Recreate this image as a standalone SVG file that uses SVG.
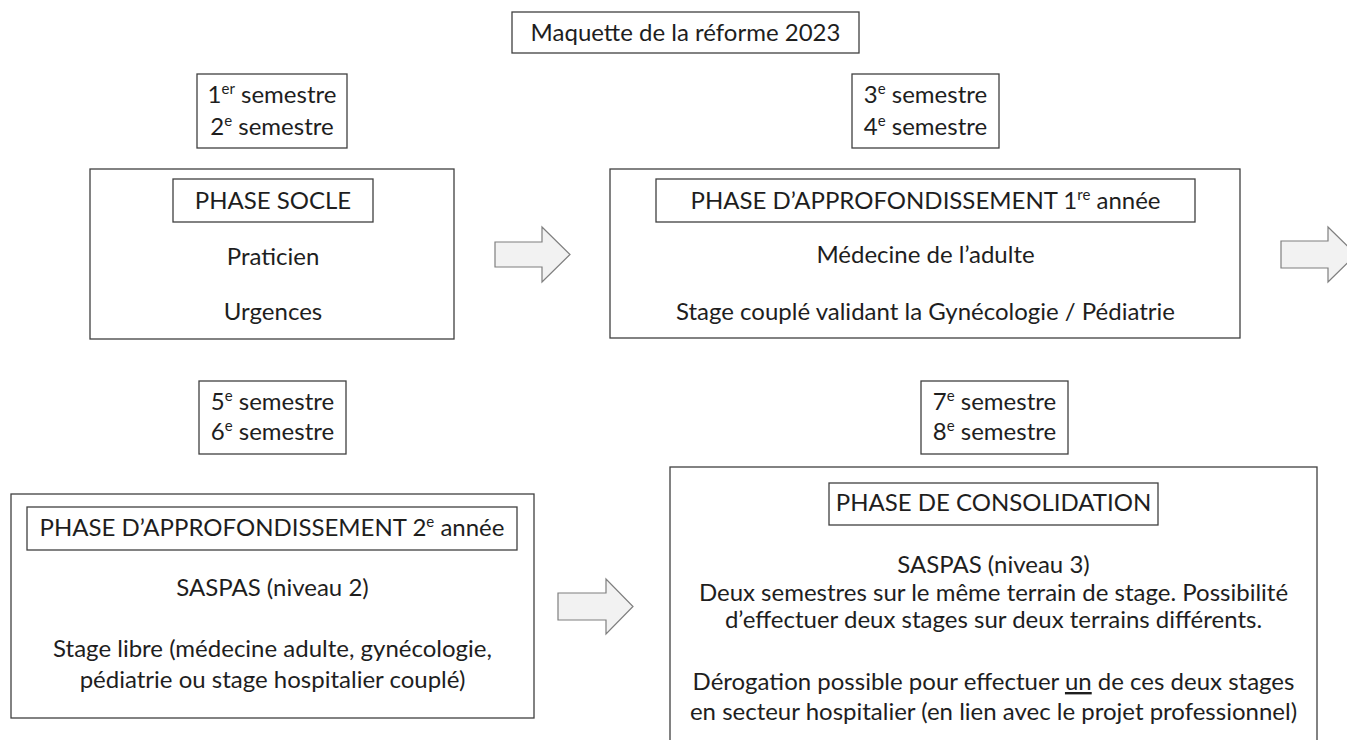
<svg xmlns="http://www.w3.org/2000/svg" width="1347" height="740" viewBox="0 0 1347 740">
<style>
.box{fill:#ffffff;stroke:#404040;stroke-width:1.3}
.arrow{fill:#f2f2f2;stroke:#7f7f7f;stroke-width:1.2}
text{font-family:Lato,"Liberation Sans",sans-serif;font-size:24px;fill:#1e1e1e;text-anchor:middle}
.sup{font-size:15px}
</style>
<rect width="1347" height="740" fill="#ffffff"/>
<g id="title">
<rect class="box" x="512" y="12" width="347" height="41"/>
<text x="685.5" y="41">Maquette de la réforme 2023</text>
</g>
<g id="sem12">
<rect class="box" x="197" y="74" width="150" height="74"/>
<text x="272" y="103">1<tspan class="sup" baseline-shift="super">er</tspan> semestre</text>
<text x="272" y="135">2<tspan class="sup" baseline-shift="super">e</tspan> semestre</text>
</g>
<g id="sem34">
<rect class="box" x="852" y="74" width="147" height="74"/>
<text x="925.5" y="103">3<tspan class="sup" baseline-shift="super">e</tspan> semestre</text>
<text x="925.5" y="135">4<tspan class="sup" baseline-shift="super">e</tspan> semestre</text>
</g>
<g id="phase-socle">
<rect class="box" x="90" y="169" width="364" height="170"/>
<rect class="box" x="173" y="179" width="200" height="43"/>
<text x="273" y="209">PHASE SOCLE</text>
<text x="273" y="265">Praticien</text>
<text x="273" y="320">Urgences</text>
</g>
<g id="phase-approf1">
<rect class="box" x="610" y="169" width="630" height="169"/>
<rect class="box" x="656" y="179" width="539" height="43"/>
<text x="925.5" y="209">PHASE D’APPROFONDISSEMENT 1<tspan class="sup" baseline-shift="super">re</tspan> année</text>
<text x="925.5" y="263">Médecine de l’adulte</text>
<text x="925.5" y="320">Stage couplé validant la Gynécologie / Pédiatrie</text>
</g>
<g id="sem56">
<rect class="box" x="199" y="381" width="147" height="73"/>
<text x="272.5" y="410">5<tspan class="sup" baseline-shift="super">e</tspan> semestre</text>
<text x="272.5" y="440">6<tspan class="sup" baseline-shift="super">e</tspan> semestre</text>
</g>
<g id="sem78">
<rect class="box" x="921" y="381" width="147" height="73"/>
<text x="994.5" y="410">7<tspan class="sup" baseline-shift="super">e</tspan> semestre</text>
<text x="994.5" y="440">8<tspan class="sup" baseline-shift="super">e</tspan> semestre</text>
</g>
<g id="phase-approf2">
<rect class="box" x="11" y="494" width="523" height="224"/>
<rect class="box" x="27" y="507" width="490" height="43"/>
<text x="272" y="536">PHASE D’APPROFONDISSEMENT 2<tspan class="sup" baseline-shift="super">e</tspan> année</text>
<text x="272.5" y="596">SASPAS (niveau 2)</text>
<text x="272.5" y="657">Stage libre (médecine adulte, gynécologie,</text>
<text x="272.5" y="688">pédiatrie ou stage hospitalier couplé)</text>
</g>
<g id="phase-consolidation">
<rect class="box" x="670" y="467" width="647" height="290"/>
<rect class="box" x="829" y="483" width="329" height="42"/>
<text x="993.5" y="511">PHASE DE CONSOLIDATION</text>
<text x="993.5" y="573">SASPAS (niveau 3)</text>
<text x="993.5" y="601">Deux semestres sur le même terrain de stage. Possibilité</text>
<text x="993.5" y="628">d’effectuer deux stages sur deux terrains différents.</text>
<text x="993.5" y="690">Dérogation possible pour effectuer <tspan text-decoration="underline">un</tspan> de ces deux stages</text>
<text x="993.5" y="720">en secteur hospitalier (en lien avec le projet professionnel)</text>
</g>
<g id="connectors">
<path class="arrow" d="M495,242 H542 V227 L570,254.5 L542,282 V267 H495 Z"/>
<path class="arrow" d="M1281,241 H1328 V227 L1356,254.5 L1328,282 V268 H1281 Z"/>
<path class="arrow" d="M558,593 H606 V579 L633,606.5 L606,634 V620 H558 Z"/>
</g>
</svg>
